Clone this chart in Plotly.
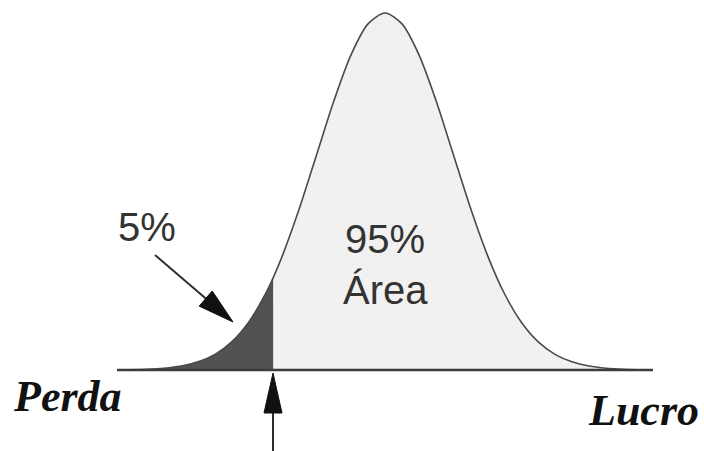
import plotly.graph_objects as go

# profit/loss distribution, x in standard deviations, y density
x_sigma = [-3.94, -3.5, -3.25, -3.0, -2.75, -2.5, -2.25, -2.0, -1.75, -1.645,
           -1.5, -1.25, -1.0, -0.75, -0.5, -0.25, 0.0, 0.25, 0.5, 0.75, 1.0,
           1.25, 1.5, 1.75, 2.0, 2.25, 2.5, 2.75, 3.0, 3.25, 3.5, 3.94]
density = [0.0002, 0.0009, 0.002, 0.0044, 0.0091, 0.0175, 0.0317, 0.054, 0.0863, 0.103,
           0.1295, 0.1826, 0.242, 0.3011, 0.3521, 0.3867, 0.3989, 0.3867, 0.3521, 0.3011, 0.242,
           0.1826, 0.1295, 0.0863, 0.054, 0.0317, 0.0175, 0.0091, 0.0044, 0.002, 0.0009, 0.0002]
cutoff = -1.645
tail_label = "5%"
body_label = ["95%", "Área"]
left_label = "Perda"
right_label = "Lucro"

W, H = 704, 451
tail_x = [x for x in x_sigma if x <= cutoff]
tail_y = [d for x, d in zip(x_sigma, density) if x <= cutoff]
body_x = [x for x in x_sigma if x >= cutoff]
body_y = [d for x, d in zip(x_sigma, density) if x >= cutoff]

fig = go.Figure()
fig.add_trace(go.Scatter(x=body_x, y=body_y, mode="lines", fill="tozeroy",
                         fillcolor="#f1f1f1", line=dict(width=0, shape="spline", smoothing=0.8),
                         hoverinfo="skip"))
fig.add_trace(go.Scatter(x=tail_x, y=tail_y, mode="lines", fill="tozeroy",
                         fillcolor="#525252", line=dict(width=0, shape="spline", smoothing=0.8),
                         hoverinfo="skip"))
fig.add_trace(go.Scatter(x=x_sigma, y=density, mode="lines",
                         line=dict(color="#4a4a4a", width=1.6, shape="spline", smoothing=0.8)))
fig.add_trace(go.Scatter(x=[x_sigma[0], x_sigma[-1]], y=[0, 0], mode="lines",
                         line=dict(color="#3c3c3c", width=2.6)))


def px(p):
    return p[0] / W, 1 - p[1] / H


def arrow(tail, tip, hl, hw):
    dx, dy = tip[0] - tail[0], tip[1] - tail[1]
    n = (dx * dx + dy * dy) ** 0.5
    ux, uy = dx / n, dy / n
    base = (tip[0] - ux * hl, tip[1] - uy * hl)
    l = (base[0] - uy * hw / 2, base[1] + ux * hw / 2)
    r = (base[0] + uy * hw / 2, base[1] - ux * hw / 2)
    a, b = px(tail), px((base[0] + ux * 2, base[1] + uy * 2))
    pts = [px(tip), px(l), px(r)]
    path = "M {} {} L {} {} L {} {} Z".format(*[c for p in pts for c in p])
    return [
        dict(type="line", xref="paper", yref="paper", x0=a[0], y0=a[1], x1=b[0], y1=b[1],
             line=dict(color="#2e2e2e", width=2)),
        dict(type="path", xref="paper", yref="paper", path=path,
             fillcolor="#111111", line=dict(color="#111111", width=1)),
    ]


shapes = arrow((155, 255), (233, 322), 36, 20) + arrow((273, 451), (273, 373), 40, 18)

txt = dict(family="Liberation Sans, Arial, sans-serif", size=40, color="#333333")
serif = dict(family="Liberation Serif, Times New Roman, serif", size=44, color="#111111")
common = dict(showarrow=False, xanchor="center", yanchor="middle")
annotations = [
    dict(x=147 / W, y=1 - 227 / H, xref="paper", yref="paper", text=tail_label, font=txt, **common),
    dict(x=0.0, y=0.146, xref="x", yref="y", text=body_label[0], font=txt, **common),
    dict(x=0.0, y=0.089, xref="x", yref="y", text=body_label[1], font=txt, **common),
    dict(x=67 / W, y=1 - 396 / H, xref="paper", yref="paper",
         text="<b><i>" + left_label + "</i></b>", font=serif, **common),
    dict(x=643 / W, y=1 - 410 / H, xref="paper", yref="paper",
         text="<b><i>" + right_label + "</i></b>", font=serif, **common),
]

fig.update_layout(
    width=W, height=H, margin=dict(l=0, r=0, t=0, b=0),
    paper_bgcolor="white", plot_bgcolor="white", showlegend=False,
    xaxis=dict(range=[-385 / 68, (W - 385) / 68], visible=False),
    yaxis=dict(range=[(370 - H) * 0.3989 / 357, 370 * 0.3989 / 357], visible=False),
    shapes=shapes, annotations=annotations,
)
fig.write_html("out.html", config={"displayModeBar": False},
               post_script="document.body.style.margin='0';")
